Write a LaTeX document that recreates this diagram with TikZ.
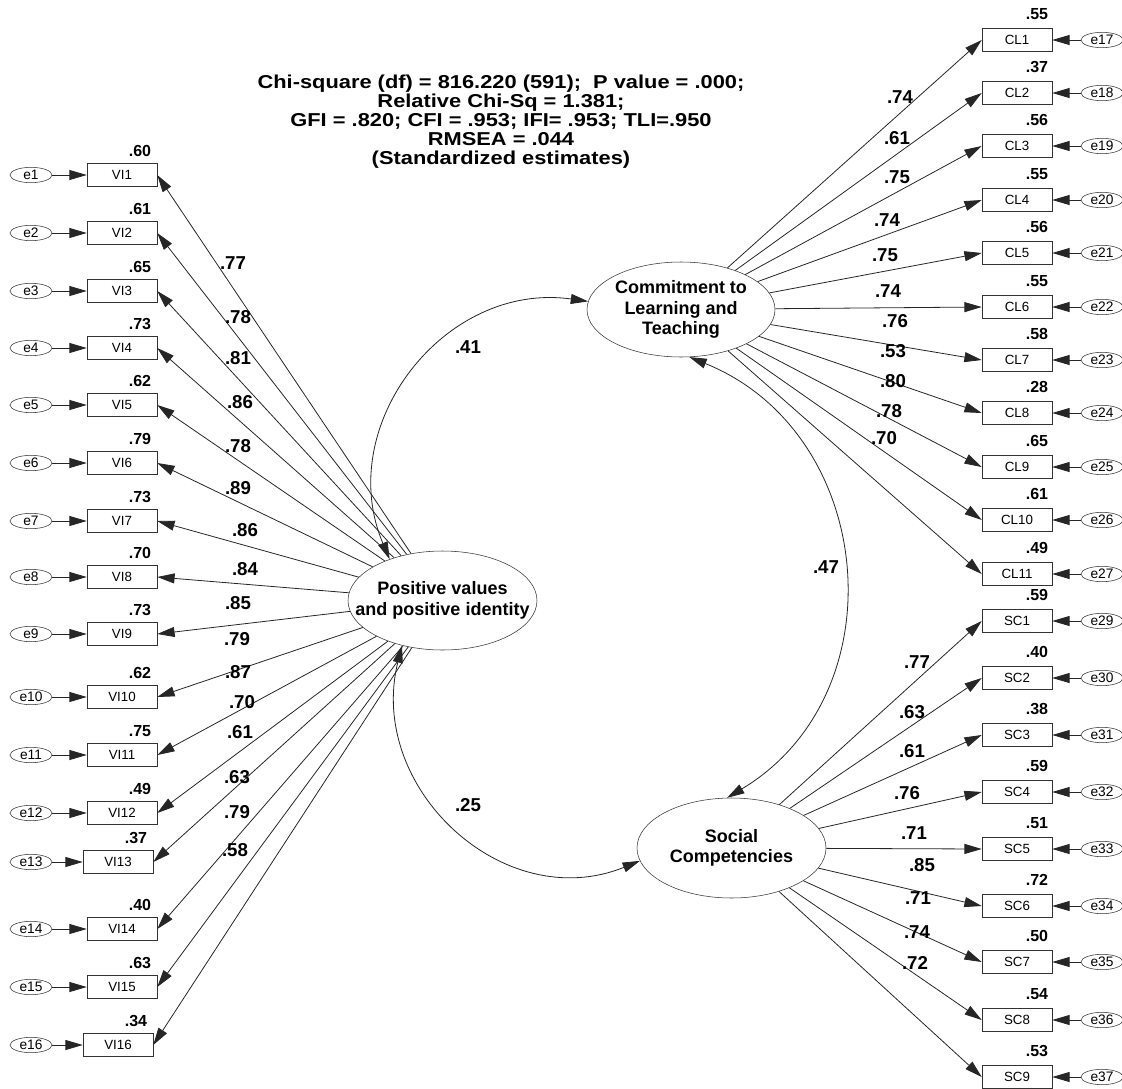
\documentclass[tikz,border=0pt]{standalone}
\usepackage{fontspec}
\setmainfont{Liberation Sans}
\newfontfamily\titlefont[FakeStretch=1.17]{Liberation Sans}
\usetikzlibrary{shapes.geometric,arrows.meta}

\tikzset{
  ind/.style={draw=black!80, rectangle, minimum width=52.5pt, minimum height=17pt, inner sep=0pt, font=\fontsize{10}{11}\selectfont},
  err/.style={draw=black!80, ellipse, minimum width=31.5pt, minimum height=11.5pt, inner sep=0pt, font=\fontsize{10.3}{11}\selectfont},
  lat/.style={draw=black!80, ellipse, inner sep=0pt},
  lattext/.style={align=center, font=\bfseries\fontsize{13.5}{15.5}\selectfont},
  arr/.style={-{Triangle[length=13pt,width=7.5pt]}, black!85, line width=0.6pt},
  cov/.style={{Triangle[length=13pt,width=7.5pt]}-{Triangle[length=13pt,width=7.5pt]}, black!85, line width=0.6pt},
  varlab/.style={font=\bfseries\fontsize{12}{14}\selectfont},
  loadlab/.style={font=\bfseries\fontsize{14}{16}\selectfont}
}

\begin{document}
\begin{tikzpicture}[x=0.75pt,y=-0.75pt]
  \useasboundingbox (0,0) rectangle (1122,1089);

  % latent factors
  \node[lat, minimum width=141.75pt, minimum height=74.25pt,
        label={[lattext]center:Positive values\\and positive identity}] (pv) at (442.5,600.5) {};
  \node[lat, minimum width=141pt, minimum height=71.25pt,
        label={[lattext]center:Commitment to\\Learning and\\Teaching}] (clt) at (681,309.5) {};
  \node[lat, minimum width=141.75pt, minimum height=75pt,
        label={[lattext]center:Social\\Competencies}] (soc) at (731.5,848) {};

  % fit indices
  \node[align=center, font=\titlefont\bfseries\fontsize{14}{14.25}\selectfont] (fit) at (501,122)
    {Chi-square (df) = 816.220 (591);\ \ P value = .000;\\Relative Chi-Sq = 1.381;\\GFI = .820; CFI = .953; IFI= .953; TLI=.950\\RMSEA = .044\\(Standardized estimates)};

  % VI items
  \foreach \i/\x/\y/\vr/\ld/\lx/\ly in {
      1/122/175/.60/.77/233/263, 2/122/233/.61/.78/238/317,
      3/122/291/.65/.81/238/358, 4/122/348/.73/.86/240/402,
      5/122/405/.62/.78/238/446, 6/122/463/.79/.89/238/488,
      7/122/521/.73/.86/245/530, 8/122/577/.70/.84/245/569,
      9/122/634/.73/.85/238/603, 10/122/697/.62/.79/237/639,
      11/122/755/.75/.87/238/672, 12/122/813/.49/.70/242/702,
      13/118/862/.37/.61/240/732, 14/122/929/.40/.63/237/777,
      15/122/987/.63/.79/237/812, 16/118/1045/.34/.58/235/850}{
    \node[ind] (vi\i) at (\x,\y) {VI\i};
    \node[err] (e\i) at (31,\y) {e\i};
    \draw[arr] (e\i) -- (vi\i);
    \node[varlab] at (\x+18,\y-24) {\vr};
    \draw[arr] (pv) -- (vi\i.east);
    \node[loadlab] at (\lx,\ly) {\ld};
  }

  % CL items
  \foreach \i/\y/\vr/\ld/\lx/\ly in {
      1/40/.55/.74/900/97, 2/93/.37/.61/897/138, 3/146/.56/.75/897/177,
      4/200/.55/.74/887/220, 5/253/.56/.75/885/255, 6/307/.55/.74/888/291,
      7/360/.58/.76/895/321, 8/413/.28/.53/893/351, 9/467/.65/.80/893/381,
      10/520/.61/.78/889/411, 11/574/.49/.70/884/438}{
    \pgfmathtruncatemacro\n{\i+16}
    \node[ind] (cl\i) at (1017,\y) {CL\i};
    \node[err] (e\n) at (1102,\y) {e\n};
    \draw[arr] (e\n) -- (cl\i);
    \node[varlab] at (1037,\y-26) {\vr};
    \draw[arr] (clt) -- (cl\i.west);
    \node[loadlab] at (\lx,\ly) {\ld};
  }

  % SC items
  \foreach \i/\y/\vr/\ld/\lx/\ly in {
      1/621/.59/.77/917/662, 2/678/.40/.63/912/712, 3/735/.38/.61/912/751,
      4/792/.59/.76/907/793, 5/849/.51/.71/914/833, 6/906/.72/.85/922/865,
      7/962/.50/.71/918/898, 8/1020/.54/.74/917/932, 9/1077/.53/.72/915/963}{
    \pgfmathtruncatemacro\n{\i+28}
    \node[ind] (sc\i) at (1017,\y) {SC\i};
    \node[err] (e\n) at (1102,\y) {e\n};
    \draw[arr] (e\n) -- (sc\i);
    \node[varlab] at (1037,\y-26) {\vr};
    \draw[arr] (soc) -- (sc\i.west);
    \node[loadlab] at (\lx,\ly) {\ld};
  }

  % correlations
  \draw[cov] (pv.142) to[out=113,in=172,looseness=1.14] (clt.175);
  \draw[cov] (pv.228) to[out=256,in=202,looseness=1.17] (soc.188);
  \draw[cov] (clt.280) to[out=338,in=31,looseness=1.17] (soc.95);
  \node[loadlab] (r41) at (468,347) {.41};
  \node[loadlab] (r25) at (468,805) {.25};
  \node[loadlab] (r47) at (826,567) {.47};
\end{tikzpicture}
\end{document}
